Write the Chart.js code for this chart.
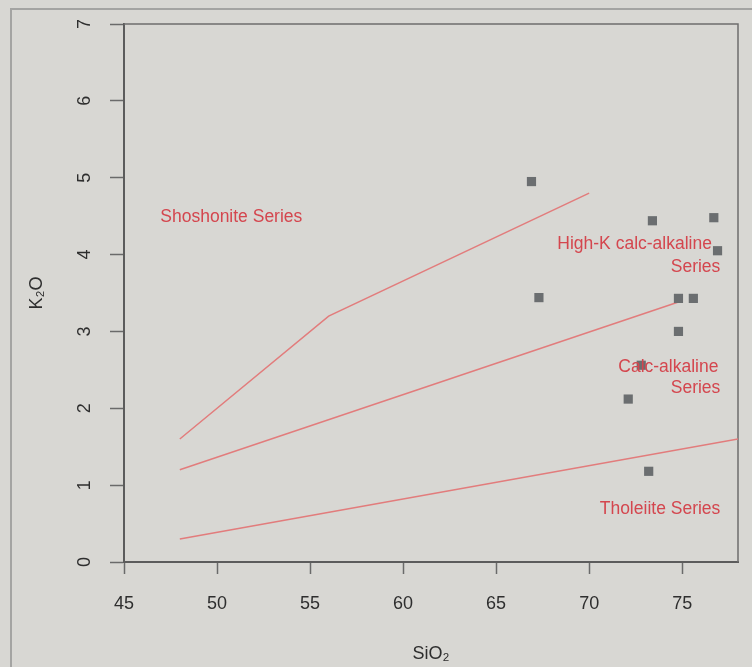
<!DOCTYPE html>
<html>
<head>
<meta charset="utf-8">
<script src="https://cdn.jsdelivr.net/npm/chart.js@4.4.0/dist/chart.umd.min.js"></script>
<style>
  html, body { margin: 0; padding: 0; background: #d8d7d3; }
  #wrap { position: relative; width: 752px; height: 667px; overflow: hidden; }
  #frame { position: absolute; left: 10px; top: 8px; right: -5px; bottom: -5px;
           border-left: 2px solid #a4a4a2; border-top: 2px solid #a4a4a2; }
  canvas { position: absolute; left: 0; top: 0; }
</style>
</head>
<body>
<div id="wrap">
  <div id="frame"></div>
  <canvas id="chart" width="752" height="667"></canvas>
</div>
<script>
// Sample points (SiO2 wt%, K2O wt%)
const sampleSiO2 = [66.9, 67.3, 73.4, 76.7, 76.9, 74.8, 75.6, 74.8, 72.8, 72.1, 73.2];
const sampleK2O  = [4.95, 3.44, 4.44, 4.48, 4.05, 3.43, 3.43, 3.00, 2.56, 2.12, 1.18];

// Series boundary lines
const shoshoniteSiO2 = [48, 56, 70];
const shoshoniteK2O  = [1.6, 3.2, 4.8];
const highKSiO2 = [48, 75];
const highKK2O  = [1.2, 3.4];
const tholeiiteSiO2 = [48, 78];
const tholeiiteK2O  = [0.3, 1.6];

// Axis ticks
const xTicks = [45, 50, 55, 60, 65, 70, 75];
const yTicks = [0, 1, 2, 3, 4, 5, 6, 7];

// Field labels (data coordinates)
const fieldLabels = [
  { text: 'Shoshonite Series', x: 46.95, y: 4.49, align: 'left' },
  { text: 'High-K calc-alkaline', x: 76.6, y: 4.13, align: 'right' },
  { text: 'Series', x: 77.05, y: 3.83, align: 'right' },
  { text: 'Calc-alkaline', x: 76.95, y: 2.53, align: 'right' },
  { text: 'Series', x: 77.05, y: 2.26, align: 'right' },
  { text: 'Tholeiite Series', x: 77.05, y: 0.69, align: 'right' }
];

const FONT = "'Liberation Sans', Arial, Helvetica, sans-serif";
const LINE_COLOR = '#e27c7c';
const LABEL_COLOR = '#d4464e';

function toPoints(xs, ys) {
  return xs.map((x, i) => ({ x: x, y: ys[i] }));
}

function boundary(xs, ys) {
  return {
    data: toPoints(xs, ys),
    showLine: true,
    borderColor: LINE_COLOR,
    borderWidth: 1.5,
    pointRadius: 0,
    fill: false
  };
}

// Draw the plot box (top and right sides)
const boxPlugin = {
  id: 'box',
  beforeDatasetsDraw(chart) {
    const a = chart.chartArea;
    const ctx = chart.ctx;
    ctx.save();
    ctx.strokeStyle = '#6e6e6e';
    ctx.lineWidth = 1.5;
    ctx.beginPath();
    ctx.moveTo(a.left, a.top);
    ctx.lineTo(a.right, a.top);
    ctx.lineTo(a.right, a.bottom);
    ctx.stroke();
    ctx.restore();
  }
};

// Field names written into the plot
const labelPlugin = {
  id: 'fieldLabels',
  afterDatasetsDraw(chart) {
    const ctx = chart.ctx;
    const xs = chart.scales.x, ys = chart.scales.y;
    ctx.save();
    ctx.fillStyle = LABEL_COLOR;
    ctx.font = '17.5px ' + FONT;
    ctx.textBaseline = 'middle';
    fieldLabels.forEach(l => {
      ctx.textAlign = l.align;
      ctx.fillText(l.text, xs.getPixelForValue(l.x), ys.getPixelForValue(l.y));
    });
    ctx.restore();
  }
};

const ctx = document.getElementById('chart').getContext('2d');
new Chart(ctx, {
  type: 'scatter',
  data: {
    datasets: [
      {
        data: toPoints(sampleSiO2, sampleK2O),
        pointStyle: 'rect',
        pointRadius: 6.5,
        backgroundColor: '#6b6e70',
        borderWidth: 0
      },
      boundary(shoshoniteSiO2, shoshoniteK2O),
      boundary(highKSiO2, highKK2O),
      boundary(tholeiiteSiO2, tholeiiteK2O)
    ]
  },
  options: {
    responsive: false,
    animation: false,
    layout: { padding: { top: 24, right: 14, left: 0, bottom: 0 } },
    plugins: {
      legend: { display: false },
      tooltip: { enabled: false }
    },
    scales: {
      x: {
        type: 'linear',
        min: 45,
        max: 78,
        afterBuildTicks: s => { s.ticks = xTicks.map(v => ({ value: v })); },
        afterFit: s => { s.height = 105; s.paddingLeft = 0; s.paddingRight = 0; },
        grid: { drawOnChartArea: false, drawTicks: true, tickLength: 12, tickWidth: 1.5, tickColor: '#6a6a6a' },
        border: { display: true, color: '#5c5c5c', width: 2 },
        ticks: { padding: 19, color: '#2e2e2e', font: { family: FONT, size: 18 } },
        title: {
          display: true, text: 'SiO₂', color: '#2e2e2e',
          font: { family: FONT, size: 18 }, padding: { top: 0, bottom: 2 }
        }
      },
      y: {
        type: 'linear',
        min: 0,
        max: 7,
        afterBuildTicks: s => { s.ticks = yTicks.map(v => ({ value: v })); },
        afterFit: s => { s.width = 124; s.paddingTop = 0; s.paddingBottom = 0; },
        grid: { drawOnChartArea: false, drawTicks: true, tickLength: 14, tickWidth: 1.5, tickColor: '#6a6a6a' },
        border: { display: true, color: '#5c5c5c', width: 2 },
        ticks: {
          padding: 20, color: '#2e2e2e', font: { family: FONT, size: 18 },
          minRotation: 90, maxRotation: 90, crossAlign: 'center'
        },
        title: {
          display: true, text: 'K₂O', color: '#2e2e2e',
          font: { family: FONT, size: 18 }, padding: { top: 26, bottom: 0 }
        }
      }
    }
  },
  plugins: [boxPlugin, labelPlugin]
});
</script>
</body>
</html>
